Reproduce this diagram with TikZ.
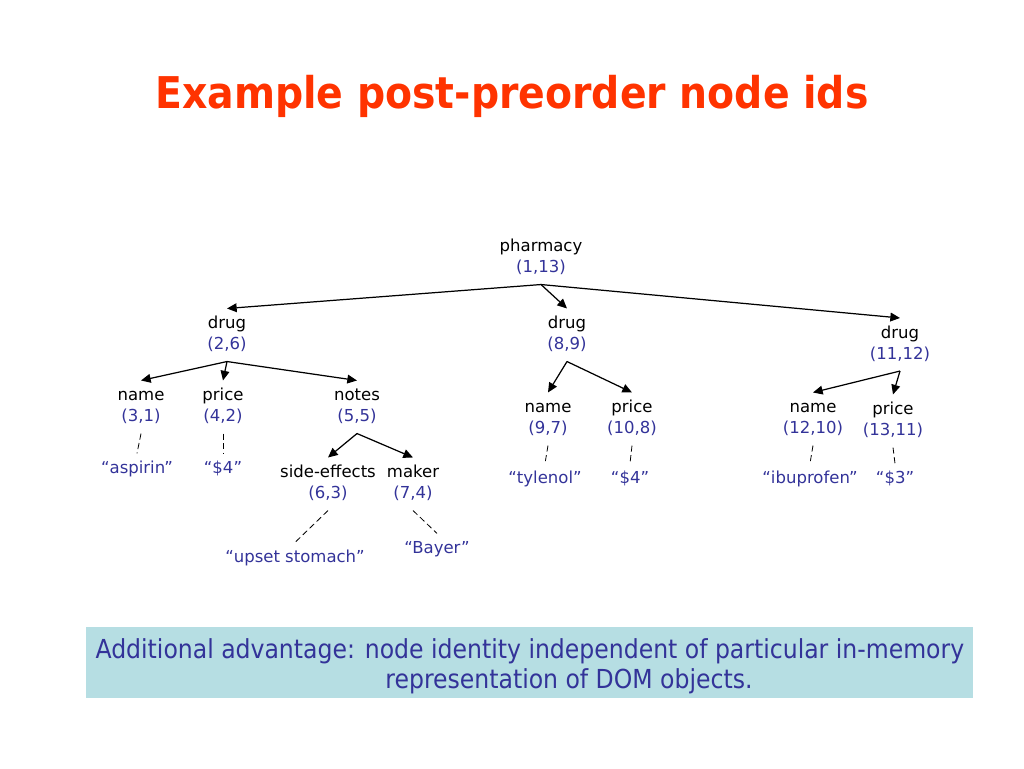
\documentclass[tikz,border=0pt]{standalone}
\usepackage{fontspec}
\setmainfont{DejaVu Sans}
\newfontfamily\titulofont{DejaVu Sans Condensed}
\usetikzlibrary{arrows.meta}
\definecolor{idazul}{RGB}{51,51,153}
\definecolor{titrojo}{RGB}{255,51,0}
\definecolor{cajazul}{RGB}{182,222,227}
\tikzstyle{nodo}=[align=center, inner sep=3pt, font=\fontsize{9.4}{11.9}\selectfont]
\tikzstyle{valor}=[text=idazul, inner sep=3pt, font=\fontsize{9.4}{11.9}\selectfont]
\tikzstyle{flecha}=[-{Triangle[length=5.5pt,width=5pt]}, line width=0.7pt]
\tikzstyle{rayas}=[dash pattern=on 3.5pt off 2pt, line width=0.45pt]
\tikzstyle{nota}=[text=idazul, font=\titulofont\fontsize{14.9}{17}\selectfont]
% nodo del arbol: nombre y (pre,post)
\newcommand{\elem}[4]{
    \node[nodo] (#1) at (#2) {\strut#3\\\textcolor{idazul}{#4}\strut};
}
\newcommand{\hoja}[3]{
    \node[valor] (#1) at (#2) {\strut#3};
}

\begin{document}
\begin{tikzpicture}[x=0.02cm, y=-0.02cm]
        \useasboundingbox (0,0) rectangle (1024,768);

        % Titulo
        \node[text=titrojo, font=\titulofont\bfseries\fontsize{24.9}{28}\selectfont] (titulo) at (512,96) {Example post-preorder node ids};

        % Nodos del arbol
        \elem{pharm}{541,258}{pharmacy}{(1,13)}
        \elem{drugA}{227,335}{drug}{(2,6)}
        \elem{drugB}{567,335}{drug}{(8,9)}
        \elem{drugC}{900,344.5}{drug}{(11,12)}
        \elem{nameA}{141,407}{name}{(3,1)}
        \elem{priceA}{223,407}{price}{(4,2)}
        \elem{notes}{357,407}{notes}{(5,5)}
        \elem{side}{328,484}{side-effects}{(6,3)}
        \elem{maker}{413,484}{maker}{(7,4)}
        \elem{nameB}{548,419}{name}{(9,7)}
        \elem{priceB}{632,419}{price}{(10,8)}
        \elem{nameC}{813,419}{name}{(12,10)}
        \elem{priceC}{893,421}{price}{(13,11)}

        % Valores de texto
        \hoja{aspirin}{137,469.5}{“aspirin”}
        \hoja{cuatroA}{223,469.5}{“\$4”}
        \hoja{upset}{295,558.5}{“upset stomach”}
        \hoja{bayer}{437,549.5}{“Bayer”}
        \hoja{tylenol}{545,479.5}{“tylenol”}
        \hoja{cuatroB}{630,479.5}{“\$4”}
        \hoja{ibu}{810,479.5}{“ibuprofen”}
        \hoja{tres}{895,479.5}{“\$3”}

        % Aristas padre-hijo
        \foreach \p/\h in {pharm/drugA, pharm/drugB, pharm/drugC,
                           drugA/nameA, drugA/priceA, drugA/notes,
                           notes/side, notes/maker,
                           drugB/nameB, drugB/priceB,
                           drugC/nameC, drugC/priceC}{
            \draw[flecha] (\p.south) -- (\h.north);
        }

        % Aristas a los valores
        \foreach \p/\h in {nameA/aspirin, priceA/cuatroA, side/upset, maker/bayer,
                           nameB/tylenol, priceB/cuatroB, nameC/ibu, priceC/tres}{
            \draw[rayas] (\p.south) -- (\h.north);
        }

        % Caja de abajo
        \fill[cajazul] (86,627) rectangle (973,698);
        \node[nota] (notaA) at (530,651) {Additional advantage: node identity independent of particular in-memory};
        \node[nota] (notaB) at (569,681) {representation of DOM objects.};
    \end{tikzpicture}
\end{document}
